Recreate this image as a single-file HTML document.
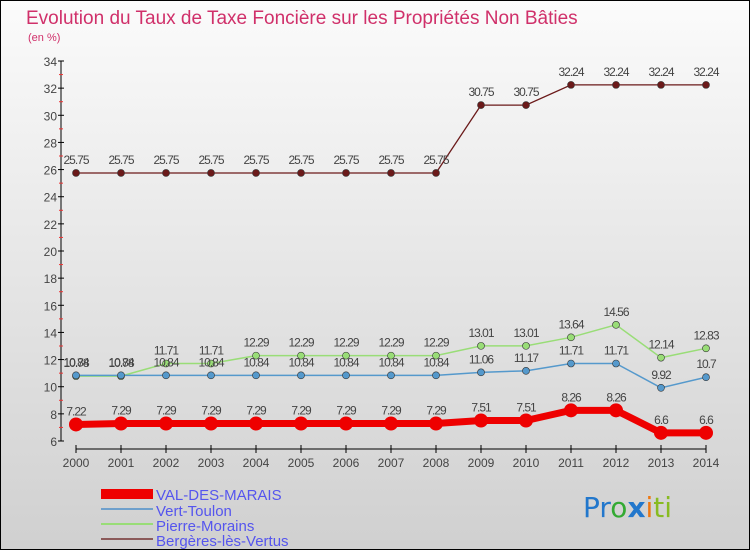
<!DOCTYPE html>
<html><head><meta charset="utf-8"><style>
body{margin:0}
#c{width:750px;height:550px;position:relative;font-family:"Liberation Sans",sans-serif;background:linear-gradient(#fbfbfb,#d0d0d0);border:1px solid #000;box-sizing:border-box;overflow:hidden}
</style></head><body>
<div id="c">
<svg id="s" width="750" height="550" xmlns="http://www.w3.org/2000/svg" style="position:absolute;left:0;top:0">
<text x="25" y="23" font-size="19" fill="#d0306a">Evolution du Taux de Taxe Foncière sur les Propriétés Non Bâties</text>
<text x="27" y="40" font-size="11" fill="#d0306a">(en %)</text>
<g id="legend">
<rect x="100" y="488" width="52" height="10" fill="#ee0000"/>
<text x="155" y="499" font-size="15" fill="#5555ee">VAL-DES-MARAIS</text>
<rect x="100" y="507" width="52" height="2" fill="#6fa0cc"/>
<text x="155" y="515" font-size="15" fill="#5555ee">Vert-Toulon</text>
<rect x="100" y="522" width="52" height="2" fill="#99dd77"/>
<text x="155" y="530" font-size="15" fill="#5555ee">Pierre-Morains</text>
<rect x="100" y="537" width="52" height="2" fill="#8b5a5a"/>
<text x="155" y="545" font-size="15" fill="#5555ee">Bergères-lès-Vertus</text>
</g>
<text x="582" y="516" font-size="28" font-family="'DejaVu Sans',sans-serif"><tspan fill="#2277cc">Pr</tspan><tspan fill="#33aa33">o</tspan><tspan fill="#2277cc" font-weight="bold">x</tspan><tspan fill="#ee7711">i</tspan><tspan fill="#88bb22">ti</tspan></text>
</svg>
</div>
<script>
const years=[2000,2001,2002,2003,2004,2005,2006,2007,2008,2009,2010,2011,2012,2013,2014];
const yTicks=[6,8,10,12,14,16,18,20,22,24,26,28,30,32,34];
const valDesMarais=[7.22,7.29,7.29,7.29,7.29,7.29,7.29,7.29,7.29,7.51,7.51,8.26,8.26,6.6,6.6];
const vertToulon=[10.84,10.84,10.84,10.84,10.84,10.84,10.84,10.84,10.84,11.06,11.17,11.71,11.71,9.92,10.7];
const pierreMorains=[10.78,10.78,11.71,11.71,12.29,12.29,12.29,12.29,12.29,13.01,13.01,13.64,14.56,12.14,12.83];
const bergeres=[25.75,25.75,25.75,25.75,25.75,25.75,25.75,25.75,25.75,30.75,30.75,32.24,32.24,32.24,32.24];
const NS="http://www.w3.org/2000/svg",s=document.getElementById('s');
const X=i=>75+i*45, Y=v=>440-(v-6)*380/28;
function mk(t,a,p){const e=document.createElementNS(NS,t);for(const k in a)e.setAttribute(k,a[k]);(p||s).appendChild(e);return e;}
const ax=mk('g',{});


mk('line',{x1:60,y1:60,x2:60,y2:440,stroke:'#000'},ax);
mk('line',{x1:75,y1:448,x2:705,y2:448,stroke:'#000'},ax);
yTicks.forEach(v=>{mk('line',{x1:57,y1:Y(v),x2:63,y2:Y(v),stroke:'#000'},ax);
 mk('line',{x1:58,y1:Y(v+1),x2:62,y2:Y(v+1),stroke:v<34?'#e33':'none'},ax);
 const t=mk('text',{x:56,y:Y(v)+5,'font-size':12,fill:'#444','text-anchor':'end'},ax);t.textContent=v;
 
 });
years.forEach((y,i)=>{mk('line',{x1:X(i),y1:444,x2:X(i),y2:452,stroke:'#000'},ax);
 const t=mk('text',{x:X(i),y:466,'font-size':12,fill:'#444','text-anchor':'middle'},ax);t.textContent=y;
 
 });
function series(d,col,w,r,name,lab){
 const g=mk('g',{});
 
 
 mk('polyline',{points:d.map((v,i)=>X(i)+','+Y(v)).join(' '),fill:'none',stroke:col,'stroke-width':w},g);
 d.forEach((v,i)=>{const c=mk('circle',{cx:X(i),cy:Y(v),r:r,fill:col,stroke:'#333','stroke-width':r>5?0:0.6},g);
  
  
  if(lab){const t=mk('text',{x:X(i),y:Y(v)-9,'font-size':12,fill:'#444','text-anchor':'middle','letter-spacing':'-1'},g);t.textContent=v;
  
  }});
}
series(bergeres,'#6b1a1a',1.3,3.5,'bergeres-les-vertus',true);
series(pierreMorains,'#99dd77',1.5,3.5,'pierre-morains',true);
series(vertToulon,'#5599cc',1.5,3.5,'vert-toulon',true);
series(valDesMarais,'#ee0000',7,7,'val-des-marais',true);
</script>
</body></html>
